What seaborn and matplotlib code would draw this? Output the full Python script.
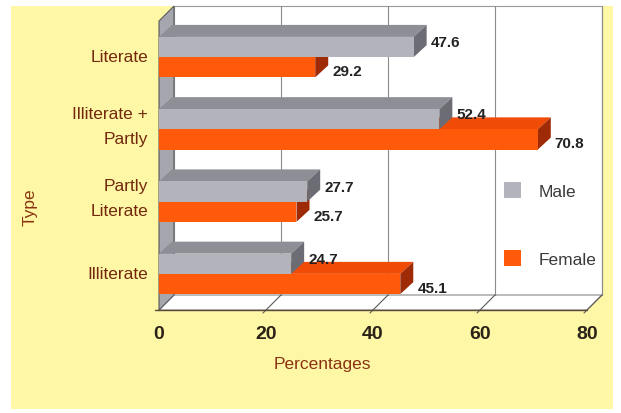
import numpy as np
import pandas as pd
import matplotlib
matplotlib.use("Agg")
import matplotlib.pyplot as plt
import seaborn as sns
from matplotlib.patches import Polygon, Rectangle, Patch
from matplotlib.lines import Line2D
from matplotlib.transforms import IdentityTransform

# ---- data ----
categories = ["Literate", "Illiterate +\nPartly", "Partly\nLiterate", "Illiterate"]
male = [47.6, 52.4, 27.7, 24.7]
female = [29.2, 70.8, 25.7, 45.1]
series = ["Male", "Female"]
x_ticks = [0, 20, 40, 60, 80]

df = pd.DataFrame({
    "Type": categories * 2,
    "Percentages": male + female,
    "Sex": ["Male"] * len(categories) + ["Female"] * len(categories),
})

sns.set_style("white")
plt.rcParams["font.family"] = ["Liberation Sans", "DejaVu Sans"]

W, H = 621, 414
fig = plt.figure(figsize=(W / 100, H / 100), dpi=100)
fig.patch.set_facecolor("white")
# yellow page panel behind the chart
fig.patches.append(Rectangle((11 / W, 4 / H), 602 / W, 403 / H,
                             transform=fig.transFigure, facecolor="#FEF8A6",
                             edgecolor="none", zorder=-10))

ax = fig.add_axes([159 / W, (H - 311) / H, 428 / W, 289 / H])
ax.patch.set_visible(False)

front = {"Male": "#B3B3BB", "Female": "#FF5A0A"}
topc = {"Male": "#8E8E97", "Female": "#F04C08"}
sidec = {"Male": "#6C6C74", "Female": "#9E2A06"}

sns.barplot(data=df, y="Type", x="Percentages", hue="Sex", hue_order=series,
            order=categories, orient="h", width=0.56, palette=front,
            saturation=1, legend=False, errorbar=None, ax=ax)
ax.set_xlim(x_ticks[0], x_ticks[-1])
ax.set_ylim(len(categories) - 0.5, -0.5)
ax.set_xlabel("")
ax.set_ylabel("")
for s in ax.spines.values():
    s.set_visible(False)

WX, WY = 15, 15   # depth of the walls (pixels)
BX, BY = 13, 12   # depth of the bars (pixels)


def disp(x, y):
    return ax.transData.transform((x, y))


def add_poly(pts, **kw):
    p = Polygon(pts, closed=True, transform=IdentityTransform(),
                clip_on=False, **kw)
    ax.add_patch(p)
    return p


def add_line(p0, p1, **kw):
    ln = Line2D([p0[0], p1[0]], [p0[1], p1[1]], transform=IdentityTransform(),
                clip_on=False, **kw)
    ax.add_line(ln)


x0, y0 = disp(x_ticks[0], len(categories) - 0.5)
x1, y1 = disp(x_ticks[-1], -0.5)

# back wall, floor and left wall
add_poly([(x0 + WX, y0 + WY), (x1 + WX, y0 + WY), (x1 + WX, y1 + WY), (x0 + WX, y1 + WY)],
         facecolor="white", edgecolor="#9A9A9A", lw=0.8, zorder=0.5)
add_poly([(x0, y0), (x1, y0), (x1 + WX, y0 + WY), (x0 + WX, y0 + WY)],
         facecolor="white", edgecolor="#8A8A8A", lw=0.8, zorder=0.6)
add_poly([(x0, y0), (x0, y1), (x0 + WX, y1 + WY), (x0 + WX, y0 + WY)],
         facecolor="#A6A6AE", edgecolor="#5A5A5A", lw=0.8, zorder=0.7)

for xt in x_ticks[1:]:
    xd, _ = disp(xt, 0)
    add_line((xd + WX, y0 + WY), (xd + WX, y1 + WY), color="#8A8A8A", lw=0.8, zorder=0.8)
    add_line((xd - 3, y0 - 3), (xd + WX, y0 + WY), color="#5A5A5A", lw=0.8, zorder=0.8)
add_line((x0, y0), (x1, y0), color="#5A4A3A", lw=1.0, zorder=0.9)
add_line((x0 - 4, y0), (x0, y0), color="#5A4A3A", lw=1.0, zorder=0.9)

# 3-D faces on the bars; the upper (male) bar of each pair sits in front
for k, (name, cont) in enumerate(zip(series, ax.containers)):
    base_z = 4 - k
    for rect in cont:
        rect.set_edgecolor("none")
        rect.set_zorder(base_z + 0.2)
        xa, ya = disp(rect.get_x(), rect.get_y())
        xb, yb = disp(rect.get_x() + rect.get_width(), rect.get_y() + rect.get_height())
        top, bot = max(ya, yb), min(ya, yb)
        add_poly([(xa, top), (xb, top), (xb + BX, top + BY), (xa + BX, top + BY)],
                 facecolor=topc[name], edgecolor="none", zorder=base_z)
        add_poly([(xb, bot), (xb + BX, bot + BY), (xb + BX, top + BY), (xb, top)],
                 facecolor=sidec[name], edgecolor="none", zorder=base_z)

# value labels
for name, cont, vals, dy in zip(series, ax.containers, (male, female), (5, -4)):
    for rect, v in zip(cont, vals):
        ax.annotate(f"{v:.1f}", xy=(v, rect.get_y() + rect.get_height() / 2),
                    xytext=(17, dy), textcoords="offset pixels",
                    ha="left", va="center", fontsize=11, fontweight="bold",
                    color="#222222", zorder=8, annotation_clip=False)

# axes ticks and labels
ax.set_xticks(x_ticks, [str(t) for t in x_ticks])
ax.tick_params(axis="x", length=0, pad=11, labelsize=14, labelcolor="#2B2218")
for lab in ax.get_xticklabels():
    lab.set_fontweight("bold")

# category names, right-aligned against the left wall
ax.set_yticks(range(len(categories)), [""] * len(categories))
ax.tick_params(axis="y", which="major", length=0)
for i, cat in enumerate(categories):
    dy = 3.5 if "\n" in cat else 0.5
    ax.annotate(cat, xy=(0, i), xycoords=("axes fraction", "data"),
                xytext=(-11, dy), textcoords="offset pixels",
                ha="right", va="center", fontsize=12.5, color="#74290F",
                linespacing=1.85, annotation_clip=False)
ax.set_yticks(np.arange(-0.5, len(categories), 1), minor=True)
ax.tick_params(axis="y", which="minor", length=4, width=0.8, color="#5A5A5A")

fig.text(322 / W, 1 - 365 / H, "Percentages", ha="center", va="center",
         fontsize=12.5, color="#8A3312")
fig.text(30 / W, 1 - 207 / H, "Type", ha="center", va="center", rotation=90,
         fontsize=12.5, color="#8A3312")

handles = [Patch(facecolor=front[s], edgecolor="none") for s in series]
ax.legend(handles, series, loc="center", bbox_to_anchor=(0.914, 0.296),
          frameon=False, fontsize=12.5, handlelength=1.0, handleheight=1.0,
          labelspacing=2.95, handletextpad=1.0, labelcolor="#3A3A3A")

fig.savefig("out.png", dpi=100, facecolor=fig.get_facecolor())
